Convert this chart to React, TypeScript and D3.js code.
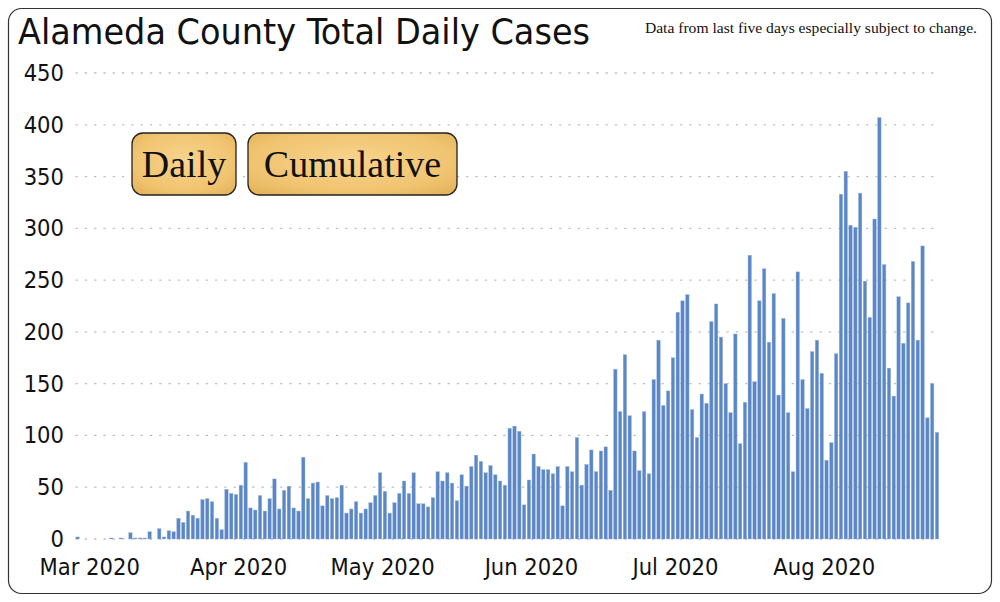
import React, { useEffect, useRef } from 'react'
import * as d3 from 'd3'

// daily new cases, one value per day starting Feb 28 2020
const startDate = new Date(2020, 1, 28)
const dailyCases: number[] = [
  2, 0, 0, 0, 0, 0, 0, 1, 0, 1, 0, 6, 1, 1, 1, 7, 0, 10, 2, 8,
  7, 20, 16, 27, 23, 20, 38, 39, 36, 20, 9, 48, 44, 43, 52, 74, 30, 28, 42, 27,
  39, 58, 29, 47, 51, 30, 27, 79, 39, 54, 55, 32, 42, 39, 40, 52, 25, 29, 36, 25,
  29, 35, 42, 64, 46, 25, 35, 44, 56, 44, 64, 34, 34, 31, 40, 65, 56, 64, 54, 37,
  62, 51, 70, 81, 75, 64, 71, 62, 56, 52, 107, 109, 104, 33, 57, 82, 70, 67, 67, 63,
  70, 32, 70, 65, 98, 52, 72, 86, 65, 85, 89, 47, 164, 123, 178, 119, 85, 66, 123, 63,
  154, 192, 129, 143, 175, 219, 230, 236, 125, 98, 140, 131, 210, 227, 195, 150, 122, 198, 92, 132,
  274, 152, 230, 261, 190, 237, 139, 213, 122, 65, 258, 154, 126, 181, 192, 160, 76, 93, 179, 333,
  355, 303, 301, 334, 249, 214, 309, 407, 265, 165, 138, 234, 189, 228, 268, 192, 283, 117, 150, 103
]
const yTicks = [0, 50, 100, 150, 200, 250, 300, 350, 400, 450]
const monthTicks = [
  new Date(2020, 2, 1),
  new Date(2020, 3, 1),
  new Date(2020, 4, 1),
  new Date(2020, 5, 1),
  new Date(2020, 6, 1),
  new Date(2020, 7, 1)
]
const buttonLabels = ['Daily', 'Cumulative']

const W = 1000
const H = 602
const axisFont = "'DejaVu Sans Condensed', 'Liberation Sans Narrow', Roboto, sans-serif"
const serif = "'Liberation Serif', 'Times New Roman', serif"

const App = () => {
  const ref = useRef<SVGSVGElement>(null)

  useEffect(() => {
    const svg = d3.select(ref.current)
    svg.selectAll('*').remove()

    const data = dailyCases.map((v, i) => ({ date: d3.timeDay.offset(startDate, i), value: v }))
    const keys = data.map(d => +d.date)

    const x = d3.scaleBand<number>().domain(keys).range([75.9, 938.7]).paddingInner(0.28).paddingOuter(0)
    const y = d3.scaleLinear().domain([0, 450]).range([539, 73])

    const defs = svg.append('defs')
    const grad = defs.append('radialGradient').attr('id', 'btn').attr('cx', '50%').attr('cy', '45%').attr('r', '70%')
    grad.append('stop').attr('offset', '0%').attr('stop-color', '#f7d48e')
    grad.append('stop').attr('offset', '70%').attr('stop-color', '#f0c36f')
    grad.append('stop').attr('offset', '100%').attr('stop-color', '#e4b25a')

    // frame
    svg.append('rect')
      .attr('x', 8.5).attr('y', 8.5).attr('width', 983).attr('height', 585)
      .attr('rx', 13).attr('fill', '#fff').attr('stroke', '#333').attr('stroke-width', 1.2)

    svg.append('text')
      .attr('x', 18).attr('y', 44)
      .attr('font-family', axisFont).attr('font-size', 35)
      .attr('textLength', 572).attr('lengthAdjust', 'spacingAndGlyphs')
      .attr('fill', '#111')
      .text('Alameda County Total Daily Cases')

    svg.append('text')
      .attr('x', 977).attr('y', 33).attr('text-anchor', 'end')
      .attr('font-family', serif).attr('font-size', 15.6)
      .attr('fill', '#111')
      .text('Data from last five days especially subject to change.')

    // gridlines
    svg.append('g').selectAll('line').data(yTicks).join('line')
      .attr('x1', 76).attr('x2', 940)
      .attr('y1', d => y(d)).attr('y2', d => y(d))
      .attr('stroke', '#bdbdbd').attr('stroke-width', 1.3)
      .attr('stroke-dasharray', '1.3 8').attr('stroke-linecap', 'round')

    // y labels
    svg.append('g').selectAll('text').data(yTicks).join('text')
      .attr('x', 64).attr('y', d => y(d)).attr('dy', '0.34em')
      .attr('text-anchor', 'end')
      .attr('font-family', axisFont).attr('font-size', 23.5).attr('fill', '#111')
      .text(d => d)

    // bars
    svg.append('g').selectAll('rect').data(data.filter(d => d.value > 0)).join('rect')
      .attr('x', d => x(+d.date)!)
      .attr('width', x.bandwidth())
      .attr('y', d => y(d.value))
      .attr('height', d => y(0) - y(d.value))
      .attr('fill', '#5b87c6')
      .attr('stroke', '#9fb8de').attr('stroke-width', 0.4)

    // month labels
    const fmt = d3.timeFormat('%b %Y')
    svg.append('g').selectAll('text').data(monthTicks).join('text')
      .attr('x', d => x(+d)! + x.bandwidth() / 2 + 2.5)
      .attr('y', 575)
      .attr('text-anchor', 'middle')
      .attr('font-family', axisFont).attr('font-size', 23.5).attr('fill', '#111')
      .text(d => fmt(d))

    // buttons
    const btnX = d3.scaleOrdinal<string, number>().domain(buttonLabels).range([132, 248])
    const btnW = d3.scaleOrdinal<string, number>().domain(buttonLabels).range([104, 209])
    const btns = svg.append('g').selectAll('g').data(buttonLabels).join('g')
      .attr('transform', d => `translate(${btnX(d)},133)`)
    btns.append('rect')
      .attr('width', d => btnW(d)).attr('height', 62).attr('rx', 11)
      .attr('fill', 'url(#btn)').attr('stroke', '#222').attr('stroke-width', 1.3)
    btns.append('text')
      .attr('x', d => btnW(d) / 2).attr('y', 44)
      .attr('text-anchor', 'middle')
      .attr('font-family', serif).attr('font-size', 38)
      .attr('fill', '#111')
      .text(d => d)
  }, [])

  return (
    <svg
      ref={ref}
      width={W}
      height={H}
      style={{ position: 'absolute', left: 0, top: 0, background: '#fff' }}
    />
  )
}

export default App
